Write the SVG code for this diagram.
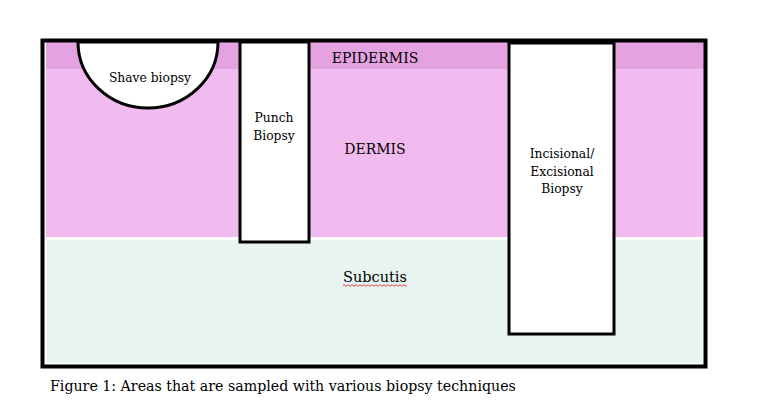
<svg xmlns="http://www.w3.org/2000/svg" width="774" height="405" viewBox="0 0 774 405">
<style>
text{font-family:"DejaVu Serif","Liberation Serif",serif;fill:#000;text-anchor:middle}
.cut{fill:#fff;stroke:#000;stroke-width:3}
</style>
<rect width="774" height="405" fill="#fff"/>
<g id="frame">
<rect x="46" y="42" width="659" height="27" fill="#E4A2E0"/>
<rect x="46" y="69" width="659" height="168" fill="#F1BBEF"/>
<rect x="47" y="240" width="655" height="123" fill="#E8F4F1"/>
<rect x="42.5" y="40.5" width="663" height="326" fill="none" stroke="#000" stroke-width="4"/>
</g>
<g id="layers">
<text x="375" y="63" font-size="14">EPIDERMIS</text>
<text x="375" y="154" font-size="14">DERMIS</text>
<text x="375" y="282" font-size="14.5">Subcutis</text>
<path d="M343 285.5 q1 -1.6 2 0 t2 0 t2 0 t2 0 t2 0 t2 0 t2 0 t2 0 t2 0 t2 0 t2 0 t2 0 t2 0 t2 0 t2 0 t2 0 t2 0 t2 0 t2 0 t2 0 t2 0 t2 0 t2 0 t2 0 t2 0 t2 0 t2 0 t2 0 t2 0 t2 0 t2 0 t2 0" fill="none" stroke="#e03030" stroke-width="0.9"/>
</g>
<g id="shave">
<path class="cut" d="M78 42 A70 66 0 0 0 218 42 Z"/>
<text x="150" y="82" font-size="12.3">Shave biopsy</text>
</g>
<g id="punch">
<rect class="cut" x="240" y="42" width="69" height="200"/>
<text x="274" y="122" font-size="12.3">Punch</text>
<text x="274" y="140" font-size="12.3">Biopsy</text>
</g>
<g id="incisional">
<rect class="cut" x="509" y="43" width="105" height="291"/>
<text x="562" y="158" font-size="12.3">Incisional/</text>
<text x="562" y="176" font-size="12.3">Excisional</text>
<text x="562" y="193" font-size="12.3">Biopsy</text>
</g>
<g id="caption">
<text x="50" y="391" font-size="14.2" style="text-anchor:start">Figure 1: Areas that are sampled with various biopsy techniques</text>
</g>
</svg>
